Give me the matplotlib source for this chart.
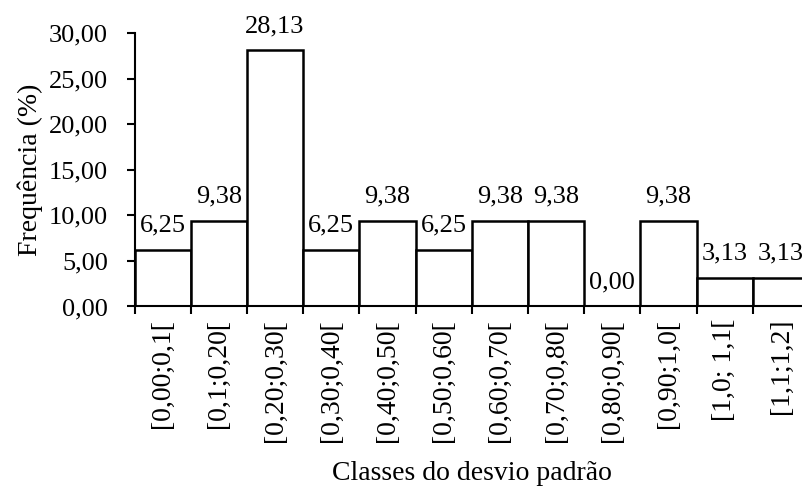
import matplotlib.pyplot as plt
import numpy as np

plt.rcParams['font.family'] = ['Liberation Serif', 'DejaVu Serif']

classes = ['[0,00;0,1[', '[0,1;0,20[', '[0,20;0,30[', '[0,30;0,40[', '[0,40;0,50[',
           '[0,50;0,60[', '[0,60;0,70[', '[0,70;0,80[', '[0,80;0,90[', '[0,90;1,0[',
           '[1,0; 1,1[', '[1,1;1,2]']
freq = [6.25, 9.38, 28.13, 6.25, 9.38, 6.25, 9.38, 9.38, 0.00, 9.38, 3.13, 3.13]
yticks = [0, 5, 10, 15, 20, 25, 30]

fs = 19

fig = plt.figure(figsize=(8.03, 4.9), dpi=100)
ax = fig.add_axes([0.1675, 0.3745, 0.840, 0.5575])

x = np.arange(len(freq))
ax.bar(x + 0.5, freq, width=1.0, color='white', edgecolor='black', linewidth=1.8)

for xi, v in zip(x, freq):
    ax.annotate(f'{v:.2f}'.replace('.', ','), (xi + 0.5, v), xytext=(0, 9.5),
                textcoords='offset points', ha='center', va='bottom', fontsize=fs)

ax.set_xlim(0, len(freq))
ax.set_ylim(0, 30)
ax.set_yticks(yticks)
ax.set_yticklabels([f'{t:.2f}'.replace('.', ',') for t in yticks], fontsize=fs)
ax.set_xticks(np.arange(len(freq) + 1))
ax.set_xticklabels([])
ax.set_xticks(x + 0.5, minor=True)
ax.set_xticklabels(classes, minor=True, rotation=90, fontsize=20)
ax.tick_params(axis='x', which='minor', length=0, pad=9)
ax.tick_params(axis='x', which='major', length=6, width=1.5, direction='out')
ax.tick_params(axis='y', length=6, width=1.5, direction='out', pad=13)

for s in ['top', 'right']:
    ax.spines[s].set_visible(False)
for s in ['left', 'bottom']:
    ax.spines[s].set_linewidth(1.5)

ax.set_ylabel('Frequência (%)', fontsize=20, labelpad=4)
ax.set_xlabel('Classes do desvio padrão', fontsize=20, labelpad=14)

fig.savefig('out.png', dpi=100)
